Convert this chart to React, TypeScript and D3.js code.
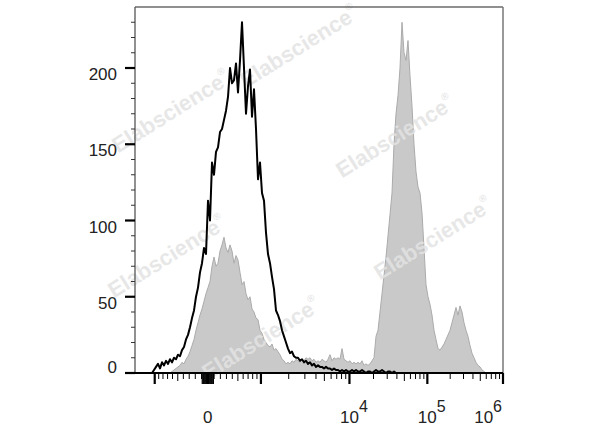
import React from 'react';
import * as d3 from 'd3';

const WIDTH = 600;
const HEIGHT = 427;

// Logicle (biexponential) display parameters
const LOGICLE_C = 121;
const LOGICLE_P = 3.28;
const X_MIN_VALUE = -1640;
const X_MAX_VALUE = 1e6;

const Y_MAX = 240;
const yMajorTicks = [0, 50, 100, 150, 200];
const yMinorTicks = d3.range(10, 240, 10).filter((v) => v % 50 !== 0);

const xMajorTicks = [-1e3, 0, 1e3, 1e4, 1e5, 1e6];
const xLabels = [
  { value: 0, base: '0', exp: '' },
  { value: 1e4, base: '10', exp: '4' },
  { value: 1e5, base: '10', exp: '5' },
  { value: 1e6, base: '10', exp: '6' },
];

// Histogram counts, in 184 equal-width display channels across the axis
const controlCounts = [
  0, 0, 0, 0, 0, 0, 0, 0, 0,
  2, 4, 6, 3, 7, 5, 8, 6, 9, 7, 10, 9, 12, 11, 15, 17, 22, 25, 30, 36, 41, 50, 56, 66, 72, 82, 78,
  113, 100, 138, 130, 145, 148, 158, 160, 166, 172, 181, 200, 190, 192, 203, 184, 205, 230, 200, 170,
  188, 199, 168, 186, 160, 127, 138, 118,
  113, 92, 78, 72, 63, 55, 41, 38, 34, 28,
  24, 20, 16, 13, 14, 11, 10, 10, 8, 9,
  7, 8, 6, 7, 5, 6, 4, 5, 4, 4,
  3, 4, 3, 3, 2, 3, 2, 2, 1, 2,
  1, 2, 1, 1, 2, 1, 2, 1, 1, 2,
  1, 0, 1, 1, 0, 1, 2, 1, 1, 2, 1, 0, 1, 1, 0, 1, 0,
  0, 0, 0, 0, 0, 0, 0, 0, 0, 0, 0, 0, 0, 0, 0, 0, 0, 0, 0, 0, 0, 0, 0, 0, 0, 0,
  0, 0, 0, 0, 0, 0, 0, 0, 0, 0, 0, 0, 0, 0, 0, 0, 0, 0, 0, 0, 0, 0, 0, 0, 0, 0, 0,
];

const stainedCounts = [
  0, 0, 0, 0, 0, 0, 0, 0, 0, 0, 0, 0, 0, 0, 0, 0, 0, 0,
  1, 2, 3, 4, 5, 7, 6, 9, 11, 14,
  18, 22, 28, 33, 38, 42, 47, 52, 56, 60,
  70, 76, 70, 72, 80, 84, 89, 82, 79, 84,
  80, 72, 77, 74, 66, 58, 60, 52, 48, 50,
  42, 40, 36, 35, 28, 26,
  22, 20, 18, 17, 19, 15, 16, 14, 12, 9,
  8, 6, 7, 6, 8, 7, 9, 8, 7, 9,
  8, 10, 9, 10, 8, 9, 7, 8, 7, 9,
  8, 7, 9, 12, 8, 10, 9, 10, 9, 16,
  9, 8, 7, 8, 6, 7, 6, 7, 6, 8,
  5, 6, 5, 6, 8, 10,
  24, 28, 40, 52, 64, 76, 90, 104, 118, 150,
  170, 182, 200, 230, 210, 205, 218, 195, 175, 150,
  132, 122, 118, 105, 82, 58, 50, 45, 38, 28,
  22, 16, 15, 17, 19, 22, 25, 28, 33, 38,
  43, 38, 44, 40, 33, 28, 24, 18, 13, 10,
  7, 5, 4, 2, 1,
  0, 0, 0, 0, 0, 0, 0, 0, 0,
];

const WATERMARK = 'Elabscience';

function logicleS(z: number): number {
  const p = LOGICLE_P;
  const a = Math.abs(z);
  const v = LOGICLE_C * (Math.exp(a) - p * p * Math.exp(-a / p) + p * p - 1);
  return z < 0 ? -v : v;
}

function logicleZ(v: number): number {
  const a = Math.abs(v);
  let lo = 0;
  let hi = 40;
  for (let i = 0; i < 80; i++) {
    const mid = (lo + hi) / 2;
    if (logicleS(mid) < a) lo = mid;
    else hi = mid;
  }
  const z = (lo + hi) / 2;
  return v < 0 ? -z : z;
}

export default function App() {
  const margin = { left: 135, right: 97, top: 7, bottom: 54 };
  const x0 = margin.left;
  const x1 = WIDTH - margin.right;
  const yTop = margin.top;
  const yBot = HEIGHT - margin.bottom;

  const zMin = logicleZ(X_MIN_VALUE);
  const zMax = logicleZ(X_MAX_VALUE);
  const xz = d3.scaleLinear().domain([zMin, zMax]).range([x0, x1]);
  const xv = (v: number) => xz(logicleZ(v));
  const y = d3.scaleLinear().domain([0, Y_MAX]).range([yBot, yTop]);

  const n = controlCounts.length;
  const dz = (zMax - zMin) / n;
  const binCenter = (i: number) => zMin + (i + 0.5) * dz;

  const ctrlPts: [number, number][] = controlCounts.map((c, i) => [binCenter(i), c]);
  const stnPts: [number, number][] = stainedCounts.map((c, i) => [binCenter(i), c]);
  const ctrlFull: [number, number][] = [[zMin, 0], ...ctrlPts, [zMax, 0]];
  const stnFull: [number, number][] = [[zMin, 0], ...stnPts, [zMax, 0]];

  const line = d3
    .line<[number, number]>()
    .x((d) => xz(d[0]))
    .y((d) => y(d[1]));
  const area = d3
    .area<[number, number]>()
    .x((d) => xz(d[0]))
    .y0(y(0))
    .y1((d) => y(d[1]));

  // minor x ticks
  const minor: { v: number; len: number }[] = [];
  for (let e = 1; e <= 5; e++) {
    for (let k = 1; k <= 9; k++) {
      const v = k * Math.pow(10, e);
      if (k === 1 && e >= 3) continue;
      const len = e === 1 ? 11 : k === 5 ? 8 : 6;
      minor.push({ v, len });
      if (-v >= X_MIN_VALUE && e <= 2) minor.push({ v: -v, len });
    }
  }

  const font = "'Liberation Sans', Arial, sans-serif";

  const watermarks = [
    [300, 48],
    [172, 113],
    [396, 138],
    [168, 258],
    [434, 240],
    [262, 340],
  ];

  return (
    <svg
      width={WIDTH}
      height={HEIGHT}
      style={{ position: 'absolute', left: 0, top: 0, background: '#fff' }}
    >
      <rect x={0} y={0} width={WIDTH} height={HEIGHT} fill="#fff" />
      {/* stained filled histogram */}
      <path d={area(stnFull) || ''} fill="#c9c9c9" stroke="#ababab" strokeWidth={1} />

      {/* watermarks */}
      {watermarks.map(([cx, cy], i) => (
        <text
          key={i}
          x={cx}
          y={cy}
          transform={`rotate(-32 ${cx} ${cy})`}
          textAnchor="middle"
          dominantBaseline="middle"
          fontFamily={font}
          fontWeight="bold"
          fontSize={22}
          fill="#e3e3e3"
          fillOpacity={0.85}
        >
          {WATERMARK}
          <tspan fontSize={10} dy={-9}>®</tspan>
        </text>
      ))}

      {/* control line */}
      <path d={line(ctrlFull) || ''} fill="none" stroke="#000" strokeWidth={2} strokeLinejoin="round" />

      {/* frame */}
      <line x1={x0} x2={x1} y1={yTop} y2={yTop} stroke="#222" strokeWidth={1.2} />
      <line x1={x1} x2={x1} y1={yTop} y2={yBot} stroke="#777" strokeWidth={1.5} />
      <line x1={x0} x2={x0} y1={yTop} y2={yBot} stroke="#555" strokeWidth={1.3} />

      {/* y ticks */}
      {yMinorTicks.map((v) => (
        <line key={'ym' + v} x1={x0 - 4} x2={x0} y1={y(v)} y2={y(v)} stroke="#333" strokeWidth={1} />
      ))}
      {yMajorTicks.map((v) => (
        <line key={'yM' + v} x1={x0 - 10} x2={x0} y1={y(v)} y2={y(v)} stroke="#000" strokeWidth={2.2} />
      ))}
      {yMajorTicks.map((v) => (
        <text
          key={'yl' + v}
          x={x0 - 18}
          y={v === 0 ? y(v) : y(v) + 12.2}
          textAnchor="end"
          fontFamily={font}
          fontSize={17}
          fill="#222"
        >
          {v}
        </text>
      ))}

      {/* x axis */}
      <line x1={x0} x2={x1} y1={yBot} y2={yBot} stroke="#000" strokeWidth={2} />
      {minor.map((t, i) => (
        <line key={'xm' + i} x1={xv(t.v)} x2={xv(t.v)} y1={yBot} y2={yBot + t.len} stroke="#000" strokeWidth={1} />
      ))}
      {xMajorTicks.map((v) => (
        <line key={'xM' + v} x1={xv(v)} x2={xv(v)} y1={yBot} y2={yBot + 11} stroke="#000" strokeWidth={2.2} />
      ))}
      {xLabels.map((l, i) => {
        const px = xv(l.value);
        const last = i === xLabels.length - 1;
        return (
          <text
            key={'xl' + i}
            x={last ? px - 1 : l.exp ? px - 9.5 : px}
            y={yBot + 50}
            textAnchor={last ? 'end' : l.exp ? 'start' : 'middle'}
            fontFamily={font}
            fontSize={17}
            fill="#222"
          >
            {l.base}
            {l.exp && (
              <tspan dy={-11} fontSize={16}>
                {l.exp}
              </tspan>
            )}
          </text>
        );
      })}
    </svg>
  );
}
